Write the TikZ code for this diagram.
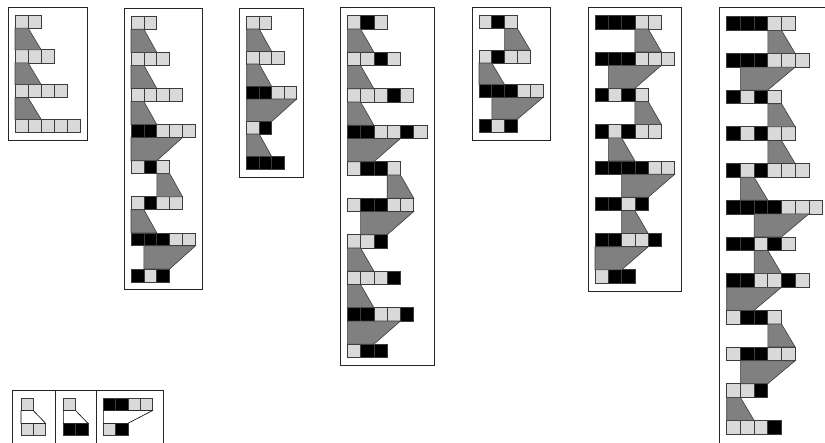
\documentclass[tikz,border=0pt]{standalone}
\usepackage{tikz}
\usetikzlibrary{positioning,fit}
\definecolor{cellgray}{HTML}{D9D9D9}
\definecolor{linkgray}{HTML}{808080}
\definecolor{edgegray}{HTML}{3C3C3C}

\begin{document}
\begin{tikzpicture}[x=1pt,y=-1pt,
  cell/.style={draw=edgegray,line width=0.8pt,anchor=north west,inner sep=0pt,outer sep=0pt},
  cellL/.style={cell,fill=cellgray},
  cellB/.style={cell,fill=black},
  link/.style={draw=edgegray,fill=linkgray,line width=0.6pt},
  blank/.style={draw=black,fill=white,line width=0.6pt},
  frame/.style={draw=black!85,line width=0.9pt},
  every fit/.style={frame,inner xsep=7pt,inner ysep=8pt}]
  \useasboundingbox (0,0) rectangle (825,442);
  \clip (0,0) rectangle (825,442);

  % panel A
  \foreach \row [count=\i from 0] in {{L,L},{L,L,L},{L,L,L,L},{L,L,L,L,L}}
    \foreach \k [count=\j from 0] in \row
      \node[cell\k,minimum size=13.1pt] (A-\i-\j) at (15+13.1*\j,15+34.8*\i) {};
  \foreach \i/\a/\b/\d [evaluate=\i as \n using int(\i+1)] in {0/0/0/1,1/0/0/1,2/0/0/1}
    \draw[link] (A-\i-\a.south west) -- (A-\i-\b.south east) -- (A-\n-\d.north east) -- (A-\n-\a.north west) -- cycle;
  \node[fit=(A-0-0) (A-3-4)] {};

  % panel B
  \foreach \row [count=\i from 0] in {{L,L},{L,L,L},{L,L,L,L},{B,B,L,L,L},{L,B,L},{L,B,L,L},{B,B,B,L,L},{B,L,B}}
    \foreach \k [count=\j from 0] in \row
      \node[cell\k,minimum size=12.9pt] (B-\i-\j) at (131+12.9*\j,16.3+36.1*\i) {};
  \foreach \i/\a/\b/\d [evaluate=\i as \n using int(\i+1)] in {0/0/0/1,1/0/0/1,2/0/0/1,3/0/3/1,4/2/2/3,5/0/0/1,6/1/4/2}
    \draw[link] (B-\i-\a.south west) -- (B-\i-\b.south east) -- (B-\n-\d.north east) -- (B-\n-\a.north west) -- cycle;
  \node[fit=(B-0-0) (B-3-4) (B-7-0)] {};

  % panel C
  \foreach \row [count=\i from 0] in {{L,L},{L,L,L},{B,B,L,L},{L,B},{B,B,B}}
    \foreach \k [count=\j from 0] in \row
      \node[cell\k,minimum size=12.5pt] (C-\i-\j) at (246.7+12.5*\j,16.5+35*\i) {};
  \foreach \i/\a/\b/\d [evaluate=\i as \n using int(\i+1)] in {0/0/0/1,1/0/0/1,2/0/3/1,3/0/0/1}
    \draw[link] (C-\i-\a.south west) -- (C-\i-\b.south east) -- (C-\n-\d.north east) -- (C-\n-\a.north west) -- cycle;
  \node[fit=(C-0-0) (C-2-3) (C-4-0)] {};

  % panel D
  \foreach \row [count=\i from 0] in {{L,B,L},{L,L,B,L},{L,L,L,B,L},{B,B,L,L,B,L},{L,B,B,L},{L,B,B,L,L},{L,L,B},{L,L,L,B},{B,B,L,L,B},{L,B,B}}
    \foreach \k [count=\j from 0] in \row
      \node[cell\k,minimum size=13.3pt] (D-\i-\j) at (347.3+13.3*\j,15.7+36.5*\i) {};
  \foreach \i/\a/\b/\d [evaluate=\i as \n using int(\i+1)] in {0/0/0/1,1/0/0/1,2/0/0/1,3/0/3/1,4/3/3/4,5/1/4/2,6/0/0/1,7/0/0/1,8/0/3/1}
    \draw[link] (D-\i-\a.south west) -- (D-\i-\b.south east) -- (D-\n-\d.north east) -- (D-\n-\a.north west) -- cycle;
  \node[fit=(D-0-0) (D-3-5) (D-9-0)] {};

  % panel E
  \foreach \row [count=\i from 0] in {{L,B,L},{L,B,L,L},{B,B,B,L,L},{B,L,B}}
    \foreach \k [count=\j from 0] in \row
      \node[cell\k,minimum size=12.8pt] (E-\i-\j) at (479+12.8*\j,15.7+34.5*\i) {};
  \foreach \i/\a/\b/\d [evaluate=\i as \n using int(\i+1)] in {0/2/2/3,1/0/0/1,2/1/4/2}
    \draw[link] (E-\i-\a.south west) -- (E-\i-\b.south east) -- (E-\n-\d.north east) -- (E-\n-\a.north west) -- cycle;
  \node[fit=(E-0-0) (E-2-4) (E-3-0)] {};

  % panel F
  \foreach \row [count=\i from 0] in {{B,B,B,L,L},{B,B,B,L,L,L},{B,L,B,L},{B,L,B,L,L},{B,B,B,B,L,L},{B,B,L,B},{B,B,L,L,B},{L,B,B}}
    \foreach \k [count=\j from 0] in \row
      \node[cell\k,minimum size=13.3pt] (F-\i-\j) at (595+13.3*\j,15.7+36.3*\i) {};
  \foreach \i/\a/\b/\d [evaluate=\i as \n using int(\i+1)] in {0/3/3/4,1/1/4/2,2/3/3/4,3/1/1/2,4/2/5/3,5/2/2/3,6/0/3/1}
    \draw[link] (F-\i-\a.south west) -- (F-\i-\b.south east) -- (F-\n-\d.north east) -- (F-\n-\a.north west) -- cycle;
  \node[fit=(F-0-0) (F-1-5) (F-7-0)] {};

  % panel G
  \foreach \row [count=\i from 0] in {{B,B,B,L,L},{B,B,B,L,L,L},{B,L,B,L},{B,L,B,L,L},{B,L,B,L,L,L},{B,B,B,B,L,L,L},{B,B,L,B,L},{B,B,L,L,B,L},{L,B,B,L},{L,B,B,L,L},{L,L,B},{L,L,L,B}}
    \foreach \k [count=\j from 0] in \row
      \node[cell\k,minimum size=13.7pt] (G-\i-\j) at (726.7+13.7*\j,16.7+36.7*\i) {};
  \foreach \i/\a/\b/\d [evaluate=\i as \n using int(\i+1)] in {0/3/3/4,1/1/4/2,2/3/3/4,3/3/3/4,4/1/1/2,5/2/5/3,6/2/2/3,7/0/3/1,8/3/3/4,9/1/4/2,10/0/0/1}
    \draw[link] (G-\i-\a.south west) -- (G-\i-\b.south east) -- (G-\n-\d.north east) -- (G-\n-\a.north west) -- cycle;
  \node[fit=(G-0-0) (G-5-6) (G-11-0),inner ysep=9.5pt] {};

  % legend
  \draw[frame] (12.7,390) rectangle (163,446);
  \draw[frame] (55,390) -- (55,446);
  \draw[frame] (96.7,390) -- (96.7,446);
  \foreach \row [count=\i from 0] in {{L},{L,L}}
    \foreach \k [count=\j from 0] in \row
      \node[cell\k,minimum size=12.3pt] (H-\i-\j) at (21+12.3*\j,398.3+25*\i) {};
  \foreach \row [count=\i from 0] in {{L},{B,B}}
    \foreach \k [count=\j from 0] in \row
      \node[cell\k,minimum size=12.3pt] (I-\i-\j) at (63.3+12.3*\j,398.3+25*\i) {};
  \foreach \row [count=\i from 0] in {{B,B,L,L},{L,B}}
    \foreach \k [count=\j from 0] in \row
      \node[cell\k,minimum size=12.3pt] (J-\i-\j) at (103.3+12.3*\j,398.3+25*\i) {};
  \draw[blank] (H-0-0.south west) -- (H-0-0.south east) -- (H-1-1.north east) -- (H-1-0.north west) -- cycle;
  \draw[blank] (I-0-0.south west) -- (I-0-0.south east) -- (I-1-1.north east) -- (I-1-0.north west) -- cycle;
  \draw[blank] (J-0-0.south west) -- (J-0-3.south east) -- (J-1-1.north east) -- (J-1-0.north west) -- cycle;
\end{tikzpicture}
\end{document}
